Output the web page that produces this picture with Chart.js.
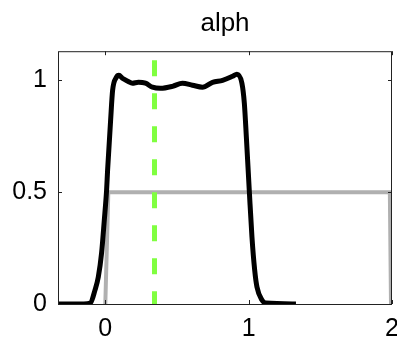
<!DOCTYPE html>
<html>
<head>
<meta charset="utf-8">
<script src="https://cdn.jsdelivr.net/npm/chart.js@4"></script>
<style>
  body { margin: 0; background: #fff; }
</style>
</head>
<body>
<canvas id="chart" width="397" height="340"></canvas>
<script>
// data
const curveX = [-0.33, -0.15, -0.105, -0.072, -0.049, -0.026, -0.007, 0.009, 0.016, 0.037, 0.051, 0.077, 0.095, 0.119, 0.16, 0.189, 0.231, 0.28, 0.329, 0.385, 0.469, 0.538, 0.608, 0.678, 0.748, 0.818, 0.888, 0.918, 0.953, 0.97, 0.984, 1.005, 1.023, 1.042, 1.058, 1.093, 1.12, 1.33];
const curveY = [0, 0, 0.004, 0.062, 0.12, 0.228, 0.375, 0.509, 0.598, 0.821, 0.955, 1.013, 1.022, 1.009, 0.995, 0.987, 0.991, 0.987, 0.969, 0.964, 0.973, 0.987, 0.978, 0.969, 0.991, 1.0, 1.018, 1.027, 0.987, 0.897, 0.746, 0.5, 0.3, 0.152, 0.076, 0.018, 0.004, 0];
const stepX = [0, 0.021, 1.985, 1.993];
const stepY = [0, 0.5, 0.5, 0];
const markX = [0.343, 0.343];
const markY = [1.09, 0];
const xTicks = [0, 1, 2];
const yTicks = [0, 0.5, 1];

function pts(xs, ys) {
    return xs.map((x, i) => ({ x: x, y: ys[i] }));
}

// matlab style box with inward ticks
const boxPlugin = {
    id: 'box',
    afterDraw(chart) {
        const ctx = chart.ctx;
        const a = chart.chartArea;
        const xs = chart.scales.x, ys = chart.scales.y;
        ctx.save();
        ctx.strokeStyle = '#222';
        ctx.lineWidth = 1;
        ctx.strokeRect(a.left + 0.5, a.top + 0.5, a.right - a.left - 1, a.bottom - a.top);
        ctx.beginPath();
        xTicks.forEach(v => {
            const px = Math.round(xs.getPixelForValue(v)) + 0.5;
            ctx.moveTo(px, a.bottom); ctx.lineTo(px, a.bottom - 4);
            ctx.moveTo(px, a.top); ctx.lineTo(px, a.top + 4);
        });
        yTicks.forEach(v => {
            const py = Math.round(ys.getPixelForValue(v)) + 0.5;
            ctx.moveTo(a.left, py); ctx.lineTo(a.left + 4, py);
            ctx.moveTo(a.right, py); ctx.lineTo(a.right - 4, py);
        });
        ctx.stroke();
        ctx.restore();
    }
};

const font = { family: 'Liberation Sans', size: 25 };

new Chart(document.getElementById('chart'), {
    type: 'line',
    data: {
        datasets: [
            {
                data: pts(markX, markY),
                borderColor: '#80ff40',
                borderWidth: 5,
                borderDash: [16, 17],
                pointRadius: 0,
                order: 0
            },
            {
                data: pts(curveX, curveY),
                borderColor: '#000',
                borderWidth: 5,
                pointRadius: 0,
                cubicInterpolationMode: 'monotone',
                order: 1
            },
            {
                data: pts(stepX, stepY),
                borderColor: '#b0b0b0',
                borderWidth: 4,
                pointRadius: 0,
                order: 2
            }
        ]
    },
    options: {
        responsive: false,
        animation: false,
        layout: { padding: { right: 5 } },
        plugins: {
            legend: { display: false },
            tooltip: { enabled: false },
            title: {
                display: true,
                text: 'alph',
                fullSize: false,
                color: '#000',
                font: { family: 'Liberation Sans', size: 26, weight: 'normal' },
                padding: { top: 8, bottom: 12 }
            }
        },
        scales: {
            x: {
                type: 'linear',
                min: -0.33,
                max: 2.0,
                grid: { display: false, drawTicks: false },
                border: { display: false },
                ticks: { font: font, color: '#000', padding: 10, maxRotation: 0, callback: v => String(v) },
                afterBuildTicks: s => { s.ticks = xTicks.map(v => ({ value: v })); },
                afterFit: s => { s.height = 36; s.paddingLeft = 0; s.paddingRight = 0; }
            },
            y: {
                min: 0,
                max: 1.13,
                grid: { display: false, drawTicks: false },
                border: { display: false },
                ticks: { font: font, color: '#000', padding: 11, callback: v => String(v) },
                afterBuildTicks: s => { s.ticks = yTicks.map(v => ({ value: v })); },
                afterFit: s => { s.width = 58; s.paddingTop = 0; s.paddingBottom = 0; }
            }
        }
    },
    plugins: [boxPlugin]
});
</script>
</body>
</html>
